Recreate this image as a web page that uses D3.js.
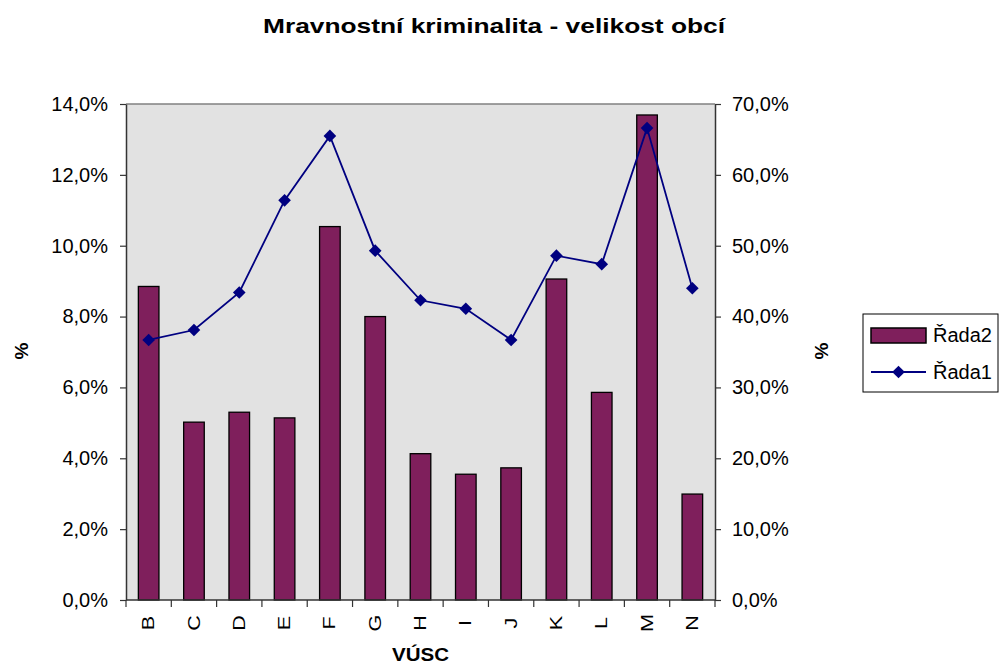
<!DOCTYPE html>
<html>
<head>
<meta charset="utf-8">
<script src="https://cdn.jsdelivr.net/npm/d3@7"></script>
<style>
  body { margin: 0; background: #fff; }
  svg { font-family: "Liberation Sans", Arial, sans-serif; }
</style>
</head>
<body>
<div id="chart"></div>
<script>
// data
const categories = ['B','C','D','E','F','G','H','I','J','K','L','M','N'];
const rada2 = [8.85, 5.02, 5.30, 5.14, 10.54, 8.00, 4.13, 3.55, 3.73, 9.06, 5.86, 13.69, 2.99]; // bars, left axis %
const rada1 = [36.7, 38.1, 43.4, 56.4, 65.5, 49.3, 42.3, 41.1, 36.7, 48.6, 47.4, 66.6, 44.0]; // line, right axis %
const leftTicks = [0, 2, 4, 6, 8, 10, 12, 14];
const rightTicks = [0, 10, 20, 30, 40, 50, 60, 70];

const width = 1000, height = 667;
const plot = {left: 126, right: 715, top: 104, bottom: 600};
const fmt = v => v.toFixed(1).replace('.', ',') + '%';

const svg = d3.select('#chart').append('svg')
  .attr('width', width).attr('height', height);

const x = d3.scaleBand().domain(categories).range([plot.left, plot.right]);
const yL = d3.scaleLinear().domain([0, 14]).range([plot.bottom, plot.top]);
const yR = d3.scaleLinear().domain([0, 70]).range([plot.bottom, plot.top]);

// plot area
svg.append('rect')
  .attr('x', plot.left).attr('y', plot.top)
  .attr('width', plot.right - plot.left).attr('height', plot.bottom - plot.top)
  .attr('fill', '#e2e2e2');
svg.append('line')
  .attr('x1', plot.left).attr('x2', plot.right)
  .attr('y1', plot.top).attr('y2', plot.top)
  .attr('stroke', '#808080').attr('stroke-width', 1.5);

// bars
const bw = x.bandwidth() / 2.2;
svg.append('g').selectAll('rect')
  .data(rada2)
  .enter().append('rect')
  .attr('x', (d, i) => x(categories[i]) + (x.bandwidth() - bw) / 2)
  .attr('y', d => yL(d))
  .attr('width', bw)
  .attr('height', d => yL(0) - yL(d))
  .attr('fill', '#7f1f5c')
  .attr('stroke', '#000').attr('stroke-width', 1.3);

// axes
const axisL = svg.append('g')
  .attr('transform', `translate(${plot.left},0)`)
  .call(d3.axisLeft(yL).tickValues(leftTicks).tickFormat(fmt).tickSize(6).tickSizeOuter(0));
const axisR = svg.append('g')
  .attr('transform', `translate(${plot.right},0)`)
  .call(d3.axisRight(yR).tickValues(rightTicks).tickFormat(fmt).tickSize(6).tickSizeOuter(0));
[axisL, axisR].forEach(a => {
  a.select('.domain').attr('stroke', '#333').attr('stroke-width', 1.5);
  a.selectAll('.tick line').attr('stroke', '#333').attr('stroke-width', 1.2);
  a.selectAll('.tick text').attr('font-size', 20).attr('fill', '#000')
    .attr('font-family', '"Liberation Sans", Arial, sans-serif');
});
axisL.selectAll('.tick text').attr('x', -18);
axisR.selectAll('.tick text').attr('x', 17);

// x axis: ticks at category boundaries
const axisX = svg.append('g').attr('transform', `translate(0,${plot.bottom})`);
axisX.append('line')
  .attr('x1', plot.left).attr('x2', plot.right)
  .attr('stroke', '#333').attr('stroke-width', 1.5);
axisX.selectAll('.bound')
  .data(categories.concat(['end']))
  .enter().append('line')
  .attr('x1', (d, i) => i < categories.length ? x(d) : plot.right)
  .attr('x2', (d, i) => i < categories.length ? x(d) : plot.right)
  .attr('y1', 0).attr('y2', 7)
  .attr('stroke', '#333').attr('stroke-width', 1.2);
axisX.selectAll('.lab')
  .data(categories)
  .enter().append('text')
  .attr('transform', d => `translate(${x(d) + x.bandwidth() / 2},23) rotate(-90) scale(1.35,1)`)
  .attr('text-anchor', 'middle')
  .attr('dy', '0.35em')
  .attr('font-size', 16)
  .text(d => d);

// line series
const line = d3.line()
  .x((d, i) => x(categories[i]) + x.bandwidth() / 2)
  .y(d => yR(d));
svg.append('path')
  .datum(rada1)
  .attr('d', line)
  .attr('fill', 'none')
  .attr('stroke', '#000080').attr('stroke-width', 1.8);
svg.append('g').selectAll('path')
  .data(rada1)
  .enter().append('path')
  .attr('transform', (d, i) => `translate(${x(categories[i]) + x.bandwidth() / 2},${yR(d)}) rotate(45)`)
  .attr('d', d3.symbol().type(d3.symbolSquare).size(80))
  .attr('fill', '#000080');

// titles
svg.append('text')
  .attr('x', 263).attr('y', 33)
  .attr('font-size', 21).attr('font-weight', 'bold')
  .attr('textLength', 462).attr('lengthAdjust', 'spacingAndGlyphs')
  .text('Mravnostní kriminalita - velikost obcí');
svg.append('text')
  .attr('x', (plot.left + plot.right) / 2).attr('y', 661)
  .attr('text-anchor', 'middle')
  .attr('font-size', 19).attr('font-weight', 'bold')
  .attr('textLength', 57).attr('lengthAdjust', 'spacingAndGlyphs')
  .text('VÚSC');
svg.append('text')
  .attr('transform', 'translate(28,351) rotate(-90)')
  .attr('text-anchor', 'middle')
  .attr('font-size', 19).attr('font-weight', 'bold')
  .text('%');
svg.append('text')
  .attr('transform', 'translate(828,351) rotate(-90)')
  .attr('text-anchor', 'middle')
  .attr('font-size', 19).attr('font-weight', 'bold')
  .text('%');

// legend
const lg = svg.append('g').attr('transform', 'translate(863,314)');
lg.append('rect')
  .attr('width', 135).attr('height', 78)
  .attr('fill', '#fff').attr('stroke', '#000').attr('stroke-width', 1);
lg.append('rect')
  .attr('x', 8).attr('y', 14).attr('width', 55).attr('height', 15)
  .attr('fill', '#7f1f5c').attr('stroke', '#000').attr('stroke-width', 1.5);
lg.append('text').attr('x', 70).attr('y', 28).attr('font-size', 20).text('Řada2');
lg.append('line')
  .attr('x1', 8).attr('x2', 63).attr('y1', 58).attr('y2', 58)
  .attr('stroke', '#000080').attr('stroke-width', 1.8);
lg.append('path')
  .attr('transform', 'translate(35.5,58) rotate(45)')
  .attr('d', d3.symbol().type(d3.symbolSquare).size(80))
  .attr('fill', '#000080');
lg.append('text').attr('x', 70).attr('y', 65).attr('font-size', 20).text('Řada1');
</script>
</body>
</html>
